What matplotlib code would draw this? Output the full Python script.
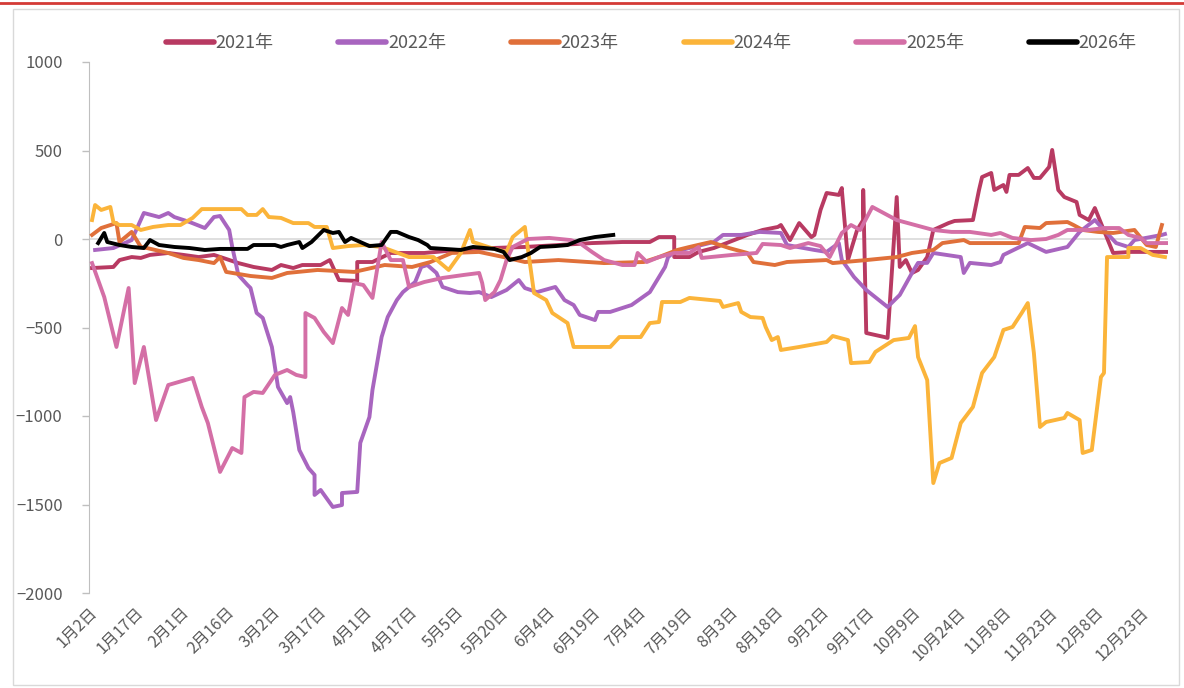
import matplotlib
matplotlib.use('Agg')
import matplotlib.pyplot as plt
from matplotlib.patches import Rectangle
from matplotlib.lines import Line2D

plt.rcParams['font.family'] = ['Noto Sans CJK SC', 'DejaVu Sans']

# x positions are category indices (one per trading date), tick every 15
tick_labels = ['1月2日', '1月17日', '2月1日', '2月16日', '3月2日', '3月17日', '4月1日',
               '4月17日', '5月5日', '5月20日', '6月4日', '6月19日', '7月4日', '7月19日',
               '8月3日', '8月18日', '9月2日', '9月17日', '10月9日', '10月24日', '11月8日',
               '11月23日', '12月8日', '12月23日']

x_2021 = [1, 8, 10, 14, 17, 20, 26, 31, 36, 41, 44, 49, 54, 60, 63, 67, 70, 76, 79, 82, 88,
          88, 93, 99, 110, 121, 132, 143, 154, 165, 175, 184, 187, 192, 192, 197, 200, 205,
          216, 221, 226, 227, 230, 233, 237, 238, 240, 242, 246, 247, 247, 249, 252, 254, 254,
          255, 261, 262, 265, 266, 268, 270, 272, 275, 277, 282, 284, 290, 292, 293, 296, 297,
          300, 301, 302, 305, 308, 310, 312, 315, 316, 318, 320, 324, 325, 328, 330, 332, 336,
          342, 354]
y_2021 = [-164, -158, -119, -102, -107, -90, -79, -90, -102, -90, -107, -136, -158, -175,
          -147, -164, -147, -147, -119, -232, -237, -130, -130, -79, -79, -62, -51, -45, -34,
          -23, -17, -17, 11, 11, -102, -102, -73, -51, 23, 51, 68, 79, -6, 90, 11, 23, 164,
          260, 249, 288, 277, -119, 51, 107, 277, -531, -554, -559, 237, -158, -119, -192,
          -175, -102, 51, 90, 102, 107, 277, 350, 373, 277, 305, 266, 362, 362, 401, 345, 345,
          407, 503, 277, 237, 209, 136, 107, 175, 90, -79, -73, -73]

x_2022 = [2, 8, 14, 18, 23, 26, 28, 33, 38, 41, 43, 46, 47, 49, 52, 53, 55, 57, 60, 62, 65,
          66, 67, 69, 72, 74, 74, 76, 80, 83, 83, 88, 89, 92, 93, 96, 98, 101, 103, 107, 109,
          111, 114, 116, 121, 125, 128, 132, 137, 141, 143, 147, 153, 156, 159, 161, 166, 167,
          171, 178, 184, 187, 189, 190, 192, 197, 205, 208, 214, 220, 227, 229, 238, 242, 246,
          247, 251, 255, 262, 266, 270, 272, 275, 277, 286, 287, 289, 296, 299, 300, 308, 314,
          321, 325, 330, 333, 337, 341, 343, 352, 353]
y_2022 = [-62, -51, -6, 147, 124, 147, 124, 96, 62, 124, 130, 51, -45, -203, -260, -277,
          -418, -446, -610, -836, -927, -893, -978, -1192, -1294, -1333, -1446, -1418, -1514,
          -1503, -1435, -1429, -1152, -1006, -853, -554, -441, -345, -300, -243, -158, -147,
          -192, -271, -300, -305, -300, -328, -288, -232, -277, -300, -271, -345, -373, -429,
          -458, -412, -412, -373, -300, -215, -158, -102, -73, -51, -17, 23, 23, 40, 34, -34,
          -62, -73, -23, -119, -215, -288, -384, -316, -192, -135, -135, -79, -102, -192, -135,
          -147, -130, -90, -23, -73, -45, 40, 107, 51, -23, -45, -6, 23, 28]

x_2023 = [1, 4, 9, 10, 14, 17, 19, 26, 31, 36, 41, 43, 45, 53, 60, 65, 75, 87, 97, 106, 112,
          119, 128, 136, 143, 154, 169, 182, 187, 193, 197, 204, 210, 216, 218, 225, 229, 242,
          244, 255, 265, 270, 277, 280, 287, 289, 305, 307, 312, 314, 321, 323, 326, 331, 336,
          343, 347, 350, 352]
y_2023 = [23, 62, 90, -17, 40, -45, -51, -79, -107, -119, -136, -102, -186, -209, -220, -192,
          -175, -186, -147, -158, -130, -79, -73, -102, -130, -119, -136, -130, -102, -62, -45,
          -17, -51, -79, -130, -147, -130, -119, -136, -119, -102, -79, -62, -23, -6, -23, -23,
          68, 62, 90, 96, 79, 51, 40, 34, 51, -34, -45, 79]

x_2024 = [1, 2, 4, 7, 8, 10, 14, 17, 21, 26, 30, 34, 37, 50, 52, 55, 57, 59, 63, 67, 72, 74,
          78, 80, 85, 90, 96, 105, 113, 118, 122, 125, 126, 132, 137, 139, 143, 146, 150, 152,
          157, 159, 171, 174, 181, 184, 187, 188, 194, 197, 207, 208, 213, 214, 217, 221, 222,
          224, 226, 227, 233, 242, 244, 249, 250, 256, 258, 264, 269, 271, 272, 275, 277, 279,
          283, 286, 290, 293, 297, 300, 303, 306, 308, 310, 312, 314, 320, 321, 325, 326, 329,
          332, 333, 334, 341, 341, 345, 349, 353]
y_2024 = [107, 192, 164, 181, 96, 79, 79, 51, 68, 79, 79, 119, 169, 169, 136, 136, 169, 124,
          119, 90, 90, 68, 68, -51, -40, -34, -45, -102, -102, -175, -79, 51, -17, -51, -73, 11,
          68, -305, -345, -418, -475, -610, -610, -554, -554, -475, -469, -356, -356, -333,
          -350, -384, -362, -412, -441, -446, -497, -571, -554, -627, -610, -582, -548, -571,
          -701, -695, -638, -571, -559, -492, -667, -797, -1379, -1266, -1237, -1040, -949,
          -757, -667, -514, -497, -418, -362, -644, -1062, -1034, -1011, -983, -1023, -1209,
          -1192, -780, -757, -102, -102, -51, -51, -90, -102]

x_2025 = [1, 5, 9, 13, 15, 18, 22, 26, 34, 37, 39, 43, 47, 50, 51, 54, 57, 61, 65, 68, 71, 71,
          74, 77, 80, 83, 85, 87, 90, 93, 96, 99, 103, 105, 110, 116, 123, 128, 129, 130, 133,
          135, 137, 139, 144, 151, 158, 161, 165, 169, 175, 179, 180, 183, 187, 192, 197, 200,
          201, 211, 219, 221, 227, 230, 236, 240, 243, 247, 250, 253, 257, 265, 271, 277, 283,
          289, 296, 299, 303, 309, 314, 318, 321, 328, 333, 338, 341, 345, 347, 354]
y_2025 = [-136, -328, -610, -277, -814, -610, -1023, -825, -785, -949, -1040, -1316, -1181,
          -1209, -893, -864, -870, -768, -740, -768, -780, -418, -446, -525, -588, -390, -429,
          -249, -260, -333, -17, -119, -119, -271, -243, -220, -203, -192, -249, -345, -300,
          -232, -119, -45, 0, 6, -6, -23, -73, -119, -147, -147, -79, -130, -102, -79, -79,
          -45, -107, -90, -79, -28, -34, -51, -23, -40, -102, 34, 79, 51, 181, 107, 79, 51, 40,
          40, 23, 34, 6, -6, 0, 23, 51, 51, 62, 62, 23, 6, -23, -23]

x_2026 = [3, 5, 6, 10, 14, 18, 20, 23, 28, 33, 38, 43, 52, 54, 61, 63, 65, 69, 70, 73, 77, 80,
          82, 84, 86, 89, 92, 96, 99, 101, 105, 108, 111, 112, 122, 126, 133, 136, 138, 142,
          145, 148, 153, 157, 161, 166, 172]
y_2026 = [-23, 34, -17, -34, -45, -51, -6, -34, -45, -51, -62, -56, -56, -34, -34, -45, -34,
          -17, -51, -17, 51, 34, 40, -17, 6, -17, -40, -34, 40, 40, 11, -6, -34, -51, -62, -45,
          -56, -73, -119, -102, -79, -45, -40, -34, -6, 11, 23]

series = [('2021年', x_2021, y_2021, '#B83A62'),
          ('2022年', x_2022, y_2022, '#A865BF'),
          ('2023年', x_2023, y_2023, '#E0703A'),
          ('2024年', x_2024, y_2024, '#FBB43A'),
          ('2025年', x_2025, y_2025, '#D46FA6'),
          ('2026年', x_2026, y_2026, '#000000')]

fig = plt.figure(figsize=(11.84, 6.88), dpi=100)
ax = fig.add_axes([89 / 1184, 95 / 688, 1079 / 1184, 531 / 688])

for name, xs, ys, col in series:
    ax.plot(xs, ys, color=col, lw=2.8, label=name, solid_joinstyle='round', zorder=3)

ax.axhline(0, color='#D9D9D9', lw=1.2, zorder=1)
ax.set_xlim(0, 354)
ax.set_ylim(-2000, 1000)
ax.set_yticks([1000, 500, 0, -500, -1000, -1500, -2000])

ax.set_xticks(range(0, 15 * len(tick_labels), 15))
ax.set_xticklabels(tick_labels, rotation=45, ha='right', rotation_mode='anchor')
ax.tick_params(axis='x', length=0, pad=8, labelsize=11.5, colors='#595959')
ax.tick_params(axis='y', length=5, width=1, color='#BFBFBF', pad=14, labelsize=12,
               labelcolor='#595959')
for s in ['top', 'right', 'bottom']:
    ax.spines[s].set_visible(False)
ax.spines['left'].set_color('#BFBFBF')

handles = [Line2D([], [], color=c, lw=4, solid_capstyle='round') for _, _, _, c in series]
fig.legend(handles, [s[0] for s in series], loc='center', ncol=6, frameon=False,
           bbox_to_anchor=(0.55, 0.9375), handlelength=2.65, handletextpad=0.1,
           columnspacing=3.6, fontsize=13, labelcolor='#595959')

# outer frame and red top line
fig.patches.append(Rectangle((13 / 1184, 3 / 688), 1166 / 1184, 676 / 688,
                             transform=fig.transFigure, fill=False, ec='#D9D9D9', lw=1))
fig.add_artist(Line2D([0, 1], [685 / 688, 685 / 688], transform=fig.transFigure,
                      color='#D43A36', lw=2))

fig.savefig('out.png', dpi=100)
